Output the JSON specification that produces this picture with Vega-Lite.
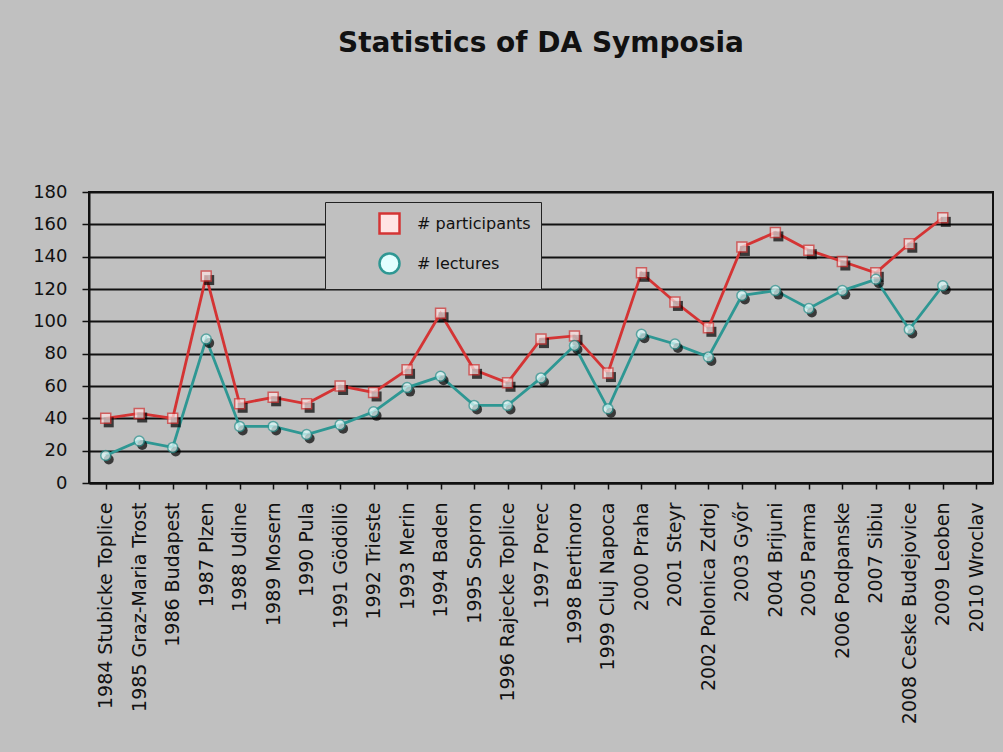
{
  "$schema": "https://vega.github.io/schema/vega-lite/v6.json",
  "width": 904,
  "height": 291,
  "autosize": {"type": "none"},
  "padding": {"left": 89, "top": 192, "right": 10, "bottom": 269},
  "background": "#c0c0c0",
  "title": {
    "text": "Statistics of DA Symposia",
    "font": "DejaVu Sans",
    "fontSize": 28,
    "fontWeight": "bold",
    "color": "#111111",
    "anchor": "middle",
    "frame": "group",
    "baseline": "alphabetic",
    "offset": 103
  },
  "config": {
    "view": {"stroke": "#111111", "strokeWidth": 2},
    "axis": {"labelColor": "#111111", "tickColor": "#111111", "domainColor": "#111111", "domainWidth": 2, "tickWidth": 1.5}
  },
  "data": {
    "values": [
      {"venue": "1984 Stubicke Toplice", "series": "# participants", "value": 40},
      {"venue": "1985 Graz-Maria Trost", "series": "# participants", "value": 43},
      {"venue": "1986 Budapest", "series": "# participants", "value": 40},
      {"venue": "1987 Plzen", "series": "# participants", "value": 128},
      {"venue": "1988 Udine", "series": "# participants", "value": 49},
      {"venue": "1989 Mosern", "series": "# participants", "value": 53},
      {"venue": "1990 Pula", "series": "# participants", "value": 49},
      {"venue": "1991 Gödöllö", "series": "# participants", "value": 60},
      {"venue": "1992 Trieste", "series": "# participants", "value": 56},
      {"venue": "1993 Merin", "series": "# participants", "value": 70},
      {"venue": "1994 Baden", "series": "# participants", "value": 105},
      {"venue": "1995 Sopron", "series": "# participants", "value": 70},
      {"venue": "1996 Rajecke Toplice", "series": "# participants", "value": 62},
      {"venue": "1997 Porec", "series": "# participants", "value": 89},
      {"venue": "1998 Bertinoro", "series": "# participants", "value": 91},
      {"venue": "1999 Cluj Napoca", "series": "# participants", "value": 68},
      {"venue": "2000 Praha", "series": "# participants", "value": 130},
      {"venue": "2001 Steyr", "series": "# participants", "value": 112},
      {"venue": "2002 Polonica Zdroj", "series": "# participants", "value": 96},
      {"venue": "2003 Győr", "series": "# participants", "value": 146},
      {"venue": "2004 Brijuni", "series": "# participants", "value": 155},
      {"venue": "2005 Parma", "series": "# participants", "value": 144},
      {"venue": "2006 Podpanske", "series": "# participants", "value": 137},
      {"venue": "2007 Sibiu", "series": "# participants", "value": 130},
      {"venue": "2008 Ceske Budejovice", "series": "# participants", "value": 148},
      {"venue": "2009 Leoben", "series": "# participants", "value": 164},
      {"venue": "1984 Stubicke Toplice", "series": "# lectures", "value": 17},
      {"venue": "1985 Graz-Maria Trost", "series": "# lectures", "value": 26},
      {"venue": "1986 Budapest", "series": "# lectures", "value": 22},
      {"venue": "1987 Plzen", "series": "# lectures", "value": 89},
      {"venue": "1988 Udine", "series": "# lectures", "value": 35},
      {"venue": "1989 Mosern", "series": "# lectures", "value": 35},
      {"venue": "1990 Pula", "series": "# lectures", "value": 30},
      {"venue": "1991 Gödöllö", "series": "# lectures", "value": 36},
      {"venue": "1992 Trieste", "series": "# lectures", "value": 44},
      {"venue": "1993 Merin", "series": "# lectures", "value": 59},
      {"venue": "1994 Baden", "series": "# lectures", "value": 66},
      {"venue": "1995 Sopron", "series": "# lectures", "value": 48},
      {"venue": "1996 Rajecke Toplice", "series": "# lectures", "value": 48},
      {"venue": "1997 Porec", "series": "# lectures", "value": 65},
      {"venue": "1998 Bertinoro", "series": "# lectures", "value": 85},
      {"venue": "1999 Cluj Napoca", "series": "# lectures", "value": 46},
      {"venue": "2000 Praha", "series": "# lectures", "value": 92},
      {"venue": "2001 Steyr", "series": "# lectures", "value": 86},
      {"venue": "2002 Polonica Zdroj", "series": "# lectures", "value": 78},
      {"venue": "2003 Győr", "series": "# lectures", "value": 116},
      {"venue": "2004 Brijuni", "series": "# lectures", "value": 119},
      {"venue": "2005 Parma", "series": "# lectures", "value": 108},
      {"venue": "2006 Podpanske", "series": "# lectures", "value": 119},
      {"venue": "2007 Sibiu", "series": "# lectures", "value": 126},
      {"venue": "2008 Ceske Budejovice", "series": "# lectures", "value": 95},
      {"venue": "2009 Leoben", "series": "# lectures", "value": 122}
    ]
  },
  "encoding": {
    "x": {
      "field": "venue",
      "type": "nominal",
      "sort": null,
      "scale": {
        "type": "point",
        "padding": 0.5,
        "domain": ["1984 Stubicke Toplice", "1985 Graz-Maria Trost", "1986 Budapest", "1987 Plzen", "1988 Udine", "1989 Mosern", "1990 Pula", "1991 Gödöllö", "1992 Trieste", "1993 Merin", "1994 Baden", "1995 Sopron", "1996 Rajecke Toplice", "1997 Porec", "1998 Bertinoro", "1999 Cluj Napoca", "2000 Praha", "2001 Steyr", "2002 Polonica Zdroj", "2003 Győr", "2004 Brijuni", "2005 Parma", "2006 Podpanske", "2007 Sibiu", "2008 Ceske Budejovice", "2009 Leoben", "2010 Wroclav"]
      },
      "axis": {
        "title": null,
        "labelAngle": -90,
        "labelFont": "DejaVu Sans",
        "labelFontSize": 19,
        "labelPadding": 13,
        "labelLimit": 400,
        "tickSize": 6,
        "grid": false
      }
    },
    "y": {
      "field": "value",
      "type": "quantitative",
      "scale": {"domain": [0, 180], "nice": false},
      "axis": {
        "title": null,
        "values": [0, 20, 40, 60, 80, 100, 120, 140, 160, 180],
        "grid": true,
        "gridColor": "#111111",
        "gridWidth": 1.8,
        "tickSize": 7,
        "labelPadding": 15,
        "labelFont": "DejaVu Sans",
        "labelFontSize": 18
      }
    }
  },
  "layer": [
    {
      "mark": {"type": "line", "strokeWidth": 2.8},
      "encoding": {
        "color": {
          "field": "series",
          "type": "nominal",
          "scale": {"domain": ["# participants", "# lectures"], "range": ["#d43434", "#2e9793"]},
          "legend": {
            "title": null,
            "orient": "none",
            "legendX": 236,
            "legendY": 10,
            "padding": 10,
            "fillColor": "#c0c0c0",
            "strokeColor": "#222222",
            "symbolSize": 400,
            "symbolOffset": 43,
            "symbolStrokeWidth": 2.5,
            "labelFont": "DejaVu Sans",
            "labelFontSize": 16,
            "labelColor": "#111111",
            "labelOffset": 16,
            "rowPadding": 9
          }
        }
      }
    },
    {
      "mark": {"type": "point", "filled": true, "color": "#000000", "size": 100, "xOffset": 3, "yOffset": 4},
      "encoding": {
        "shape": {"field": "series", "type": "nominal", "scale": {"domain": ["# participants", "# lectures"], "range": ["square", "circle"]}, "legend": null}
      }
    },
    {
      "mark": {"type": "point", "filled": true, "size": 100, "strokeWidth": 1.5},
      "encoding": {
        "shape": {"field": "series", "type": "nominal", "scale": {"domain": ["# participants", "# lectures"], "range": ["square", "circle"]}, "legend": null},
        "fill": {"field": "series", "type": "nominal", "scale": {"domain": ["# participants", "# lectures"], "range": ["#ffe4e4", "#e2ffff"]}, "legend": null},
        "stroke": {"field": "series", "type": "nominal", "scale": {"domain": ["# participants", "# lectures"], "range": ["#d43434", "#2e9793"]}, "legend": null}
      }
    }
  ]
}
